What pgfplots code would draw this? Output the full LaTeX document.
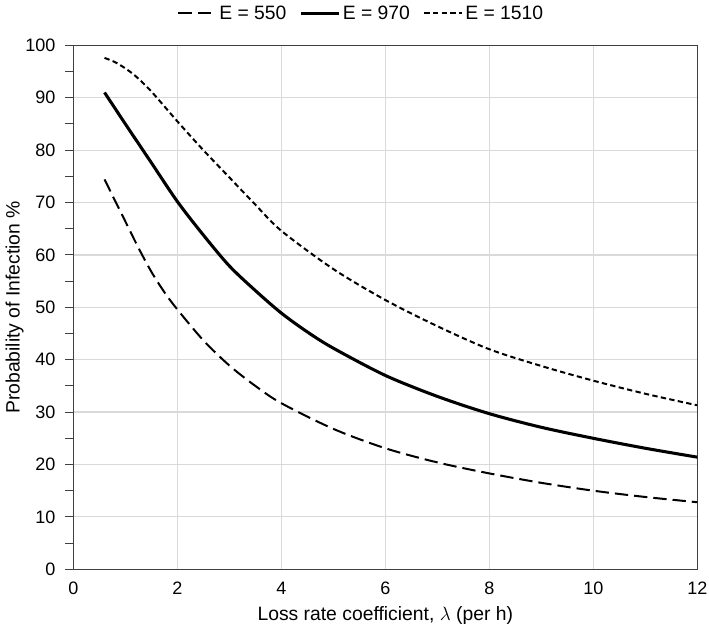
\documentclass[border=0pt]{standalone}
\usepackage{fontspec}
\setmainfont{Liberation Sans}
\usepackage{pgfplots}
\pgfplotsset{compat=1.18}

\definecolor{gridgray}{HTML}{D9D9D9}
\definecolor{axisgray}{HTML}{404040}

\begin{document}
\begin{tikzpicture}
\useasboundingbox (-55pt,-47pt) rectangle (476.8pt,427pt);
\begin{axis}[
    width=468pt, height=393pt,
    scale only axis,
    xmin=0, xmax=12, ymin=0, ymax=100,
    xtick={0,2,...,12}, ytick={0,10,...,100},
    minor xtick={0.5,1,...,11.5},
    minor ytick={5,15,...,95},
    grid=major,
    major grid style={gridgray, line width=0.9pt},
    axis line style={axisgray, line width=1pt},
    tick style={axisgray, line width=0.8pt},
    x tick style={draw=none},
    minor x tick style={axisgray, line width=0.8pt},
    xtick pos=bottom, ytick pos=left,
    ytick align=outside,
    minor tick length=6pt, major tick length=6pt,
    ticklabel style={font=\fontsize{13.5}{16}\selectfont},
    /pgf/number format/assume math mode=true,
    yticklabel style={xshift=-4pt},
    xticklabel style={yshift=-6pt},
    label style={font=\fontsize{14.5}{17}\selectfont},
    xlabel={Loss rate coefficient, $\lambda$ (per h)},
    ylabel={Probability of Infection \%},
    xlabel style={at={(0.5,0)}, anchor=center, yshift=-35pt},
    ylabel style={at={(0,0.5)}, anchor=center, yshift=44pt},
    legend columns=3,
    legend style={draw=none, fill=none, at={(0.462,1)}, anchor=center, yshift=24pt,
        font=\fontsize{14.5}{17}\selectfont,
        /tikz/every even column/.append style={column sep=8pt}},
    legend image code/.code={\draw[#1] (0pt,0pt) -- (28pt,0pt);},
]
\addplot[black, line width=1.5pt, dash pattern=on 10pt off 4.5pt, smooth] coordinates {
(0.6,74.4) (0.8,70.4) (1.0,66.4) (1.25,61.4) (1.5,56.8) (1.75,52.9) (2,49.6)
(2.5,43.7) (3,38.9) (3.5,35.0) (4,31.7) (5,26.8) (6,23.1) (7,20.4) (8,18.3)
(9,16.5) (10,15.0) (11,13.8) (12,12.8)};
\addlegendentry{E = 550}
\addplot[black, line width=2.3pt, smooth] coordinates {
(0.6,91.0) (1.0,85.0) (1.5,77.6) (2,70.2) (2.5,63.8) (3,57.9) (3.5,53.2)
(4,48.9) (4.5,45.3) (5,42.2) (6,37.0) (7,33.0) (8,29.7) (9,27.1) (10,25.0)
(11,23.1) (12,21.4)};
\addlegendentry{E = 970}
\addplot[black, line width=1.5pt, dash pattern=on 4pt off 2.5pt, smooth] coordinates {
(0.6,97.6) (0.8,96.8) (1.0,95.6) (1.2,94.1) (1.5,91.2) (2,85.5) (2.5,80.0)
(3,74.8) (3.5,69.6) (4,64.6) (5,57.3) (6,51.4) (7,46.4) (8,42.0) (9,38.8)
(10,36.0) (11,33.5) (12,31.3)};
\addlegendentry{E = 1510}
\end{axis}
\end{tikzpicture}
\end{document}
